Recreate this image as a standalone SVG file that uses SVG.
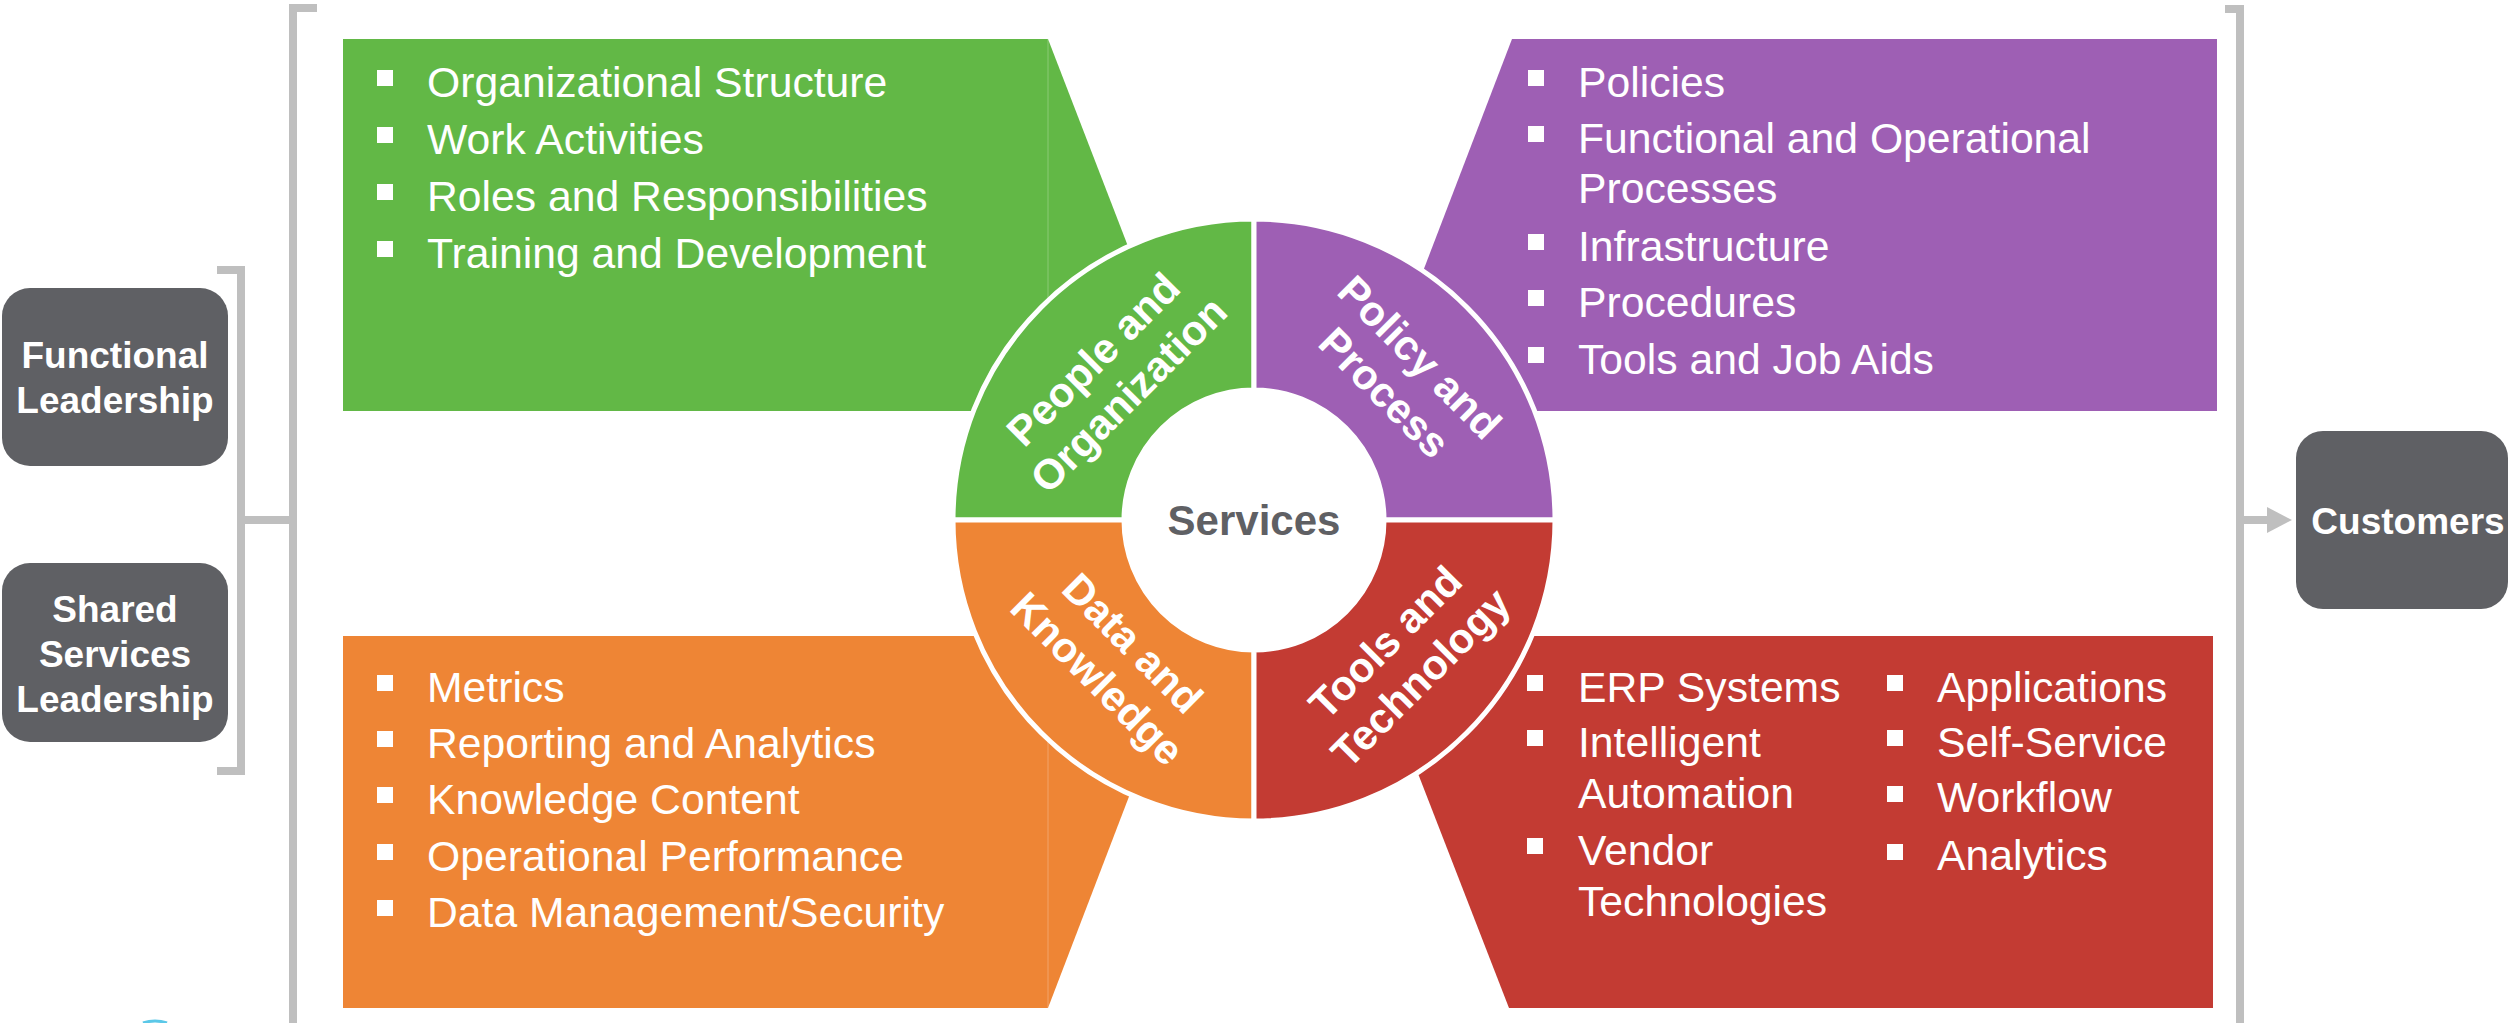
<svg xmlns="http://www.w3.org/2000/svg" width="2509" height="1023" viewBox="0 0 2509 1023">
<defs>
<style>
.item{font-family:"Liberation Sans",Arial,sans-serif;font-size:42.7px;fill:#ffffff}
.lbl{font-family:"Liberation Sans",Arial,sans-serif;font-weight:bold;font-size:37px;fill:#ffffff;text-anchor:middle}
.ring{font-family:"Liberation Sans",Arial,sans-serif;font-weight:bold;font-size:42px;fill:#ffffff;text-anchor:middle}
.blt{fill:#ffffff}
.gbox{fill:#5f6064}
.br{fill:none;stroke:#bfbfbf;stroke-width:8}
.seg{stroke:#ffffff;stroke-width:5;stroke-linejoin:miter}
.seam{stroke:#ffffff;stroke-opacity:0.22;stroke-width:1.2}
</style>
</defs>
<rect x="0" y="0" width="2509" height="1023" fill="#ffffff"/>

<g id="connectors">
<polyline class="br" points="217,270 241,270 241,771 217,771"/>
<line class="br" x1="241" y1="520" x2="293" y2="520"/>
<polyline class="br" points="317,8 293,8 293,1023"/>
<polyline class="br" points="2225,9 2240,9 2240,1023"/>
<line class="br" x1="2240" y1="520" x2="2270" y2="520"/>
<polygon points="2267,507 2292,520 2267,533" fill="#bfbfbf"/>
</g>

<g id="functional-leadership">
<rect class="gbox" x="2" y="288" width="226" height="178" rx="28"/>
<text class="lbl" x="115" y="368">Functional</text>
<text class="lbl" x="115" y="413">Leadership</text>
</g>

<g id="shared-services-leadership">
<rect class="gbox" x="2" y="563" width="226" height="179" rx="28"/>
<text class="lbl" x="115" y="622">Shared</text>
<text class="lbl" x="115" y="667">Services</text>
<text class="lbl" x="115" y="712">Leadership</text>
</g>

<g id="customers">
<rect class="gbox" x="2296" y="431" width="212" height="178" rx="27"/>
<text class="lbl" x="2408" y="534">Customers</text>
</g>

<g id="people-box">
<polygon fill="#62b846" points="343,39 1048,39 1141,280 1100,411 343,411"/>
<line class="seam" x1="1048" y1="39" x2="1048" y2="310"/>
<rect class="blt" x="377" y="70" width="16" height="16"/>
<rect class="blt" x="377" y="127" width="16" height="16"/>
<rect class="blt" x="377" y="184" width="16" height="16"/>
<rect class="blt" x="377" y="241" width="16" height="16"/>
<text class="item" x="427" y="97">Organizational Structure</text>
<text class="item" x="427" y="154">Work Activities</text>
<text class="item" x="427" y="211">Roles and Responsibilities</text>
<text class="item" x="427" y="268">Training and Development</text>
</g>

<g id="policy-box">
<polygon fill="#9e5fb4" points="1512,39 2217,39 2217,411 1420,411 1412,300"/>
<rect class="blt" x="1528" y="70" width="16" height="16"/>
<rect class="blt" x="1528" y="126" width="16" height="16"/>
<rect class="blt" x="1528" y="234" width="16" height="16"/>
<rect class="blt" x="1528" y="290" width="16" height="16"/>
<rect class="blt" x="1528" y="347" width="16" height="16"/>
<text class="item" x="1578" y="97">Policies</text>
<text class="item" x="1578" y="153">Functional and Operational</text>
<text class="item" x="1578" y="203">Processes</text>
<text class="item" x="1578" y="261">Infrastructure</text>
<text class="item" x="1578" y="317">Procedures</text>
<text class="item" x="1578" y="374">Tools and Job Aids</text>
</g>

<g id="data-box">
<polygon fill="#ee8535" points="343,636 1100,636 1143,760 1048,1008 343,1008"/>
<line class="seam" x1="1048" y1="730" x2="1048" y2="1008"/>
<rect class="blt" x="377" y="675" width="16" height="16"/>
<rect class="blt" x="377" y="731" width="16" height="16"/>
<rect class="blt" x="377" y="787" width="16" height="16"/>
<rect class="blt" x="377" y="844" width="16" height="16"/>
<rect class="blt" x="377" y="900" width="16" height="16"/>
<text class="item" x="427" y="702">Metrics</text>
<text class="item" x="427" y="758">Reporting and Analytics</text>
<text class="item" x="427" y="814">Knowledge Content</text>
<text class="item" x="427" y="871">Operational Performance</text>
<text class="item" x="427" y="927">Data Management/Security</text>
</g>

<g id="tools-box">
<polygon fill="#c33b33" points="1420,636 2213,636 2213,1008 1509,1008 1405,740"/>
<rect class="blt" x="1527" y="675" width="16" height="16"/>
<rect class="blt" x="1527" y="730" width="16" height="16"/>
<rect class="blt" x="1527" y="838" width="16" height="16"/>
<rect class="blt" x="1887" y="675" width="16" height="16"/>
<rect class="blt" x="1887" y="730" width="16" height="16"/>
<rect class="blt" x="1887" y="786" width="16" height="16"/>
<rect class="blt" x="1887" y="844" width="16" height="16"/>
<text class="item" x="1578" y="702">ERP Systems</text>
<text class="item" x="1578" y="757">Intelligent</text>
<text class="item" x="1578" y="808">Automation</text>
<text class="item" x="1578" y="865">Vendor</text>
<text class="item" x="1578" y="916">Technologies</text>
<text class="item" x="1937" y="702">Applications</text>
<text class="item" x="1937" y="757">Self-Service</text>
<text class="item" x="1937" y="812">Workflow</text>
<text class="item" x="1937" y="870">Analytics</text>
</g>

<g id="ring-people">
<path class="seg" fill="#62b846" d="M953,520 A301,301 0 0 1 1254,219 L1254,390 A130,130 0 0 0 1124,520 Z"/>
<g transform="translate(1112,378) rotate(-45)">
<text class="ring" x="0" y="-12">People and</text>
<text class="ring" x="0" y="38">Organization</text>
</g>
</g>

<g id="ring-policy">
<path class="seg" fill="#9e5fb4" d="M1254,219 A301,301 0 0 1 1555,520 L1384,520 A130,130 0 0 0 1254,390 Z"/>
<g transform="translate(1401,376) rotate(45)">
<text class="ring" x="0" y="-12">Policy and</text>
<text class="ring" x="0" y="38">Process</text>
</g>
</g>

<g id="ring-data">
<path class="seg" fill="#ee8535" d="M953,520 L1124,520 A130,130 0 0 0 1254,650 L1254,821 A301,301 0 0 1 953,520 Z"/>
<g transform="translate(1114,662) rotate(45)">
<text class="ring" x="0" y="-12">Data and</text>
<text class="ring" x="0" y="38">Knowledge</text>
</g>
</g>

<g id="ring-tools">
<path class="seg" fill="#c33b33" d="M1555,520 A301,301 0 0 1 1254,821 L1254,650 A130,130 0 0 0 1384,520 Z"/>
<g transform="translate(1404,661) rotate(-45)">
<text class="ring" x="0" y="-12">Tools and</text>
<text class="ring" x="0" y="38">Technology</text>
</g>
</g>

<g id="services">
<circle cx="1254" cy="520" r="128" fill="#ffffff"/>
<text x="1254" y="535" font-family="Liberation Sans, Arial, sans-serif" font-weight="bold" font-size="42" fill="#5f6064" text-anchor="middle">Services</text>
</g>

<path d="M143,1023 Q155,1019 167,1023" fill="none" stroke="#5bc8e8" stroke-width="3"/>
</svg>
